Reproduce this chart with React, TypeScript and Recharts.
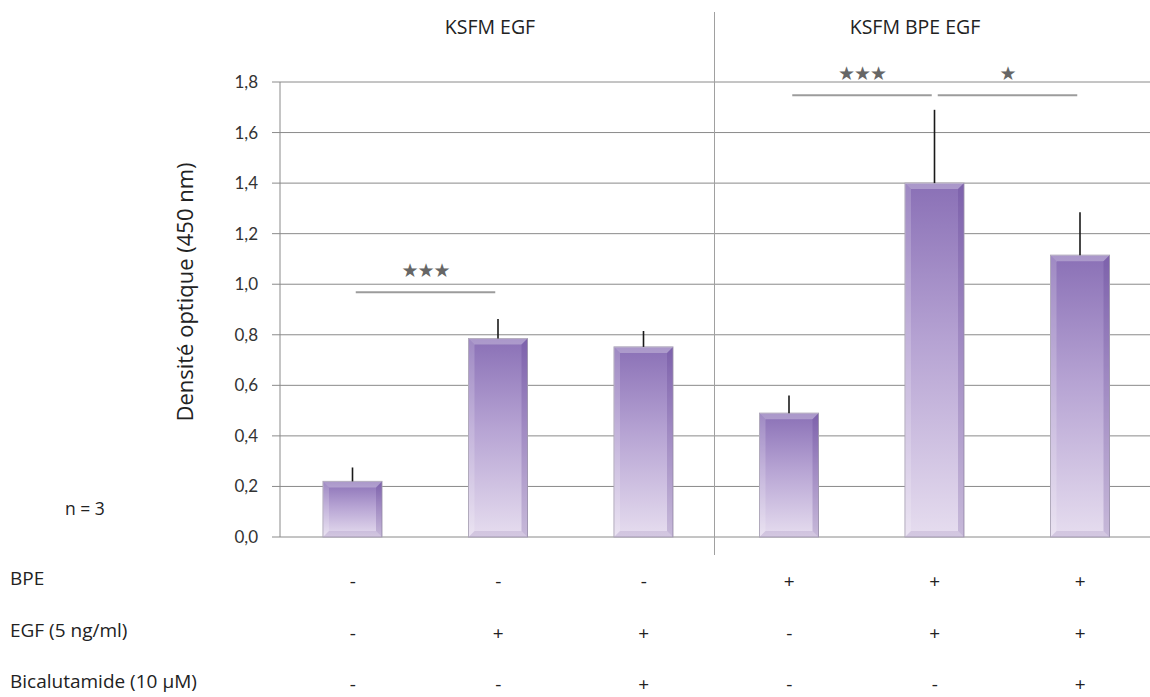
import {
  ComposedChart,
  Bar,
  XAxis,
  YAxis,
  CartesianGrid,
  ErrorBar,
  ReferenceLine,
} from "recharts";

const conditions = ["c1", "c2", "c3", "c4", "c5", "c6"];
const means = [0.22, 0.785, 0.752, 0.49, 1.4, 1.115];
const sem = [0.055, 0.077, 0.063, 0.07, 0.29, 0.17];
const bpeRow = ["-", "-", "-", "+", "+", "+"];
const egfRow = ["-", "+", "+", "-", "+", "+"];
const bicaRow = ["-", "-", "+", "-", "-", "+"];
const rowLabels = ["BPE", "EGF (5 ng/ml)", "Bicalutamide (10 µM)"];
const yTicks = [0, 0.2, 0.4, 0.6, 0.8, 1.0, 1.2, 1.4, 1.6, 1.8];
const groupLabels = ["KSFM EGF", "KSFM BPE EGF"];
const bracketFrom = ["c1", "c4", "c5"];
const bracketTo = ["c2", "c5", "c6"];
const bracketY = [0.968, 1.748, 1.748];
const bracketStars = ["★★★", "★★★", "★"];

const data = conditions.map((name, i) => ({
  name,
  value: means[i],
  err: [0, sem[i]],
}));

const rows = [bpeRow, egfRow, bicaRow];
const FONT = "'Open Sans', sans-serif";
const GRID = "#8a8a8a";

function BevelBar(props: any) {
  const { x, y, width: w, height: h } = props;
  if (!h || h <= 0) return null;
  const b = 6;
  return (
    <g>
      <rect x={x} y={y} width={w} height={h} fill="url(#barGrad)" stroke="#aaa2b6" strokeWidth={1} />
      <polygon
        points={`${x},${y} ${x + w},${y} ${x + w - b},${y + b} ${x + b},${y + b}`}
        fill="#ffffff"
        opacity={0.28}
      />
      <polygon
        points={`${x},${y} ${x + b},${y + b} ${x + b},${y + h - b} ${x},${y + h}`}
        fill="#ffffff"
        opacity={0.18}
      />
      <polygon
        points={`${x + w},${y} ${x + w},${y + h} ${x + w - b},${y + h - b} ${x + w - b},${y + b}`}
        fill="#4a2a84"
        opacity={0.2}
      />
      <polygon
        points={`${x},${y + h} ${x + w},${y + h} ${x + w - b},${y + h - b} ${x + b},${y + h - b}`}
        fill="#6a4f96"
        opacity={0.15}
      />
    </g>
  );
}

function SignTick(props: any) {
  const { x, y, payload } = props;
  const i = payload.index;
  return (
    <g>
      {rows.map((r, k) => (
        <text
          key={k}
          x={x}
          y={y + 43 + k * 51.5}
          textAnchor="middle"
          fontFamily={FONT}
          fontSize={19}
          fill="#222"
        >
          {r[i]}
        </text>
      ))}
    </g>
  );
}

function YTick(props: any) {
  const { y, payload } = props;
  return (
    <text x={258} y={y + 6} textAnchor="end" fontFamily="Lato, sans-serif" fontSize={17} fill="#333">
      {payload.value.toFixed(1).replace(".", ",")}
    </text>
  );
}

const bracketShape = (stars: string) => (p: any) => {
  const gap = 3;
  const mid = (p.x1 + p.x2) / 2;
  return (
    <g>
      <line x1={p.x1 + gap} y1={p.y1} x2={p.x2 - gap} y2={p.y2} stroke="#9c9c9c" strokeWidth={2} />
      <text
        x={mid}
        y={p.y1 - 15}
        textAnchor="middle"
        fontFamily="'DejaVu Sans', sans-serif"
        fontSize={19}
        letterSpacing={-1}
        fill="#666"
      >
        {stars}
      </text>
    </g>
  );
};

export default function App() {
  return (
    <div style={{ position: "absolute", left: 0, top: 0, width: 1150, height: 697, background: "#fff", overflow: "hidden" }}>
      <ComposedChart
        width={1150}
        height={697}
        data={data}
        margin={{ top: 82, right: -3, bottom: 0, left: 0 }}
      >
        <defs>
          <linearGradient id="barGrad" x1="0" y1="0" x2="0" y2="1">
            <stop offset="0%" stopColor="#8a70b6" />
            <stop offset="45%" stopColor="#b6a3d3" />
            <stop offset="100%" stopColor="#e6ddef" />
          </linearGradient>
        </defs>
        <CartesianGrid vertical={false} stroke={GRID} strokeWidth={1} />
        <XAxis
          dataKey="name"
          height={160}
          axisLine={false}
          tickLine={false}
          tick={<SignTick />}
          interval={0}
        />
        <YAxis
          width={280}
          domain={[0, 1.8]}
          ticks={yTicks}
          tick={<YTick />}
          tickSize={8}
          axisLine={{ stroke: GRID }}
          tickLine={{ stroke: GRID }}
        />
        <Bar dataKey="value" barSize={59} shape={<BevelBar />} isAnimationActive={false}>
          <ErrorBar dataKey="err" width={0} stroke="#1a1a1a" strokeWidth={1.6} direction="y" />
        </Bar>
        {bracketFrom.map((f, i) => (
          <ReferenceLine
            key={i}
            segment={[
              { x: f, y: bracketY[i] },
              { x: bracketTo[i], y: bracketY[i] },
            ]}
            shape={bracketShape(bracketStars[i])}
          />
        ))}
      </ComposedChart>

      <div style={{ position: "absolute", left: 714, top: 12, width: 1, height: 543, background: "#a0a0a0" }} />
      <div style={{ position: "absolute", left: 390, top: 13, width: 200, textAlign: "center", fontFamily: FONT, fontSize: 19.5, color: "#222" }}>
        {groupLabels[0]}
      </div>
      <div style={{ position: "absolute", left: 815, top: 13, width: 200, textAlign: "center", fontFamily: FONT, fontSize: 19.5, color: "#222" }}>
        {groupLabels[1]}
      </div>
      <div
        style={{
          position: "absolute",
          left: 184 - 160,
          top: 292 - 15,
          width: 320,
          textAlign: "center",
          transform: "rotate(-90deg)",
          fontFamily: FONT,
          fontSize: 22,
          color: "#222",
          lineHeight: "30px",
        }}
      >
        Densité optique (450 nm)
      </div>
      <div style={{ position: "absolute", left: 65, top: 496, fontFamily: FONT, fontSize: 17.5, color: "#222" }}>n = 3</div>
      {rowLabels.map((t, k) => (
        <div
          key={t}
          style={{ position: "absolute", left: 10, top: 565 + k * 51.5, fontFamily: FONT, fontSize: 19, color: "#222", whiteSpace: "nowrap" }}
        >
          {t}
        </div>
      ))}
    </div>
  );
}
